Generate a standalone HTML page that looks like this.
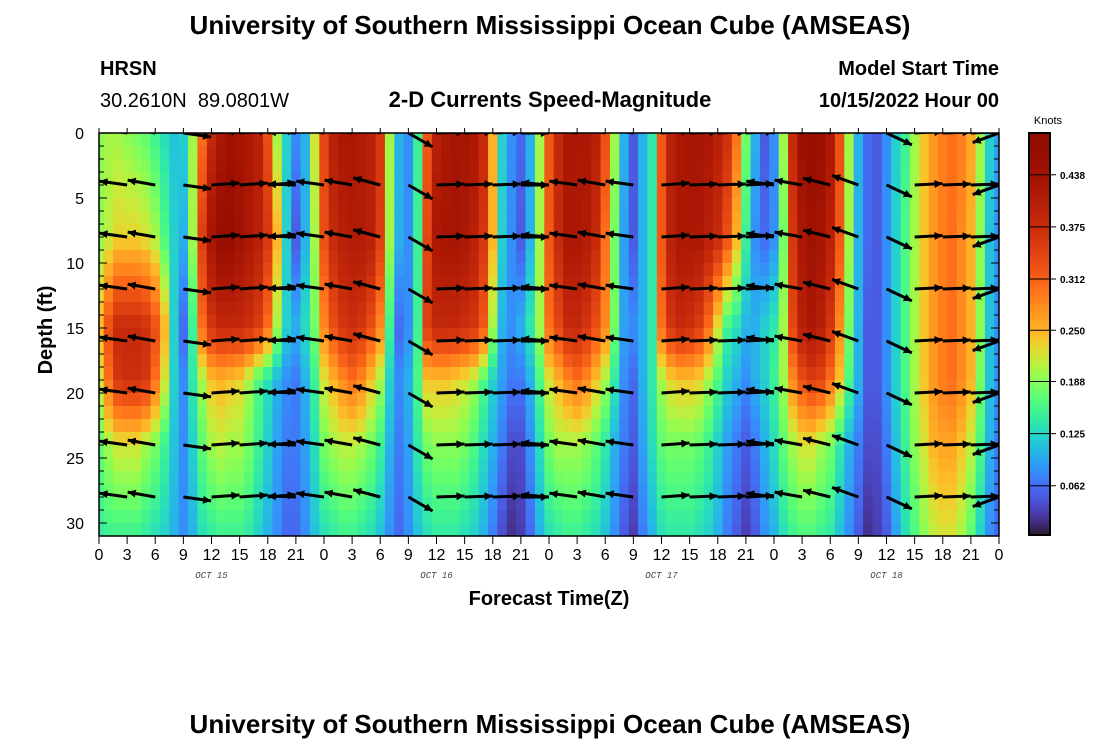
<!DOCTYPE html>
<html><head><meta charset="utf-8">
<style>
body{margin:0;background:#fff;}
svg{display:block;font-family:"Liberation Sans",sans-serif;}
</style></head>
<body>
<svg id="chart" width="1100" height="750" viewBox="0 0 1100 750">
<text x="550" y="34" text-anchor="middle" font-size="26" font-weight="bold">University of Southern Mississippi Ocean Cube (AMSEAS)</text>
<text x="100" y="75" font-size="20" font-weight="bold">HRSN</text>
<text x="100" y="107" font-size="20">30.2610N&#160;&#160;89.0801W</text>
<text x="550" y="107" text-anchor="middle" font-size="22" font-weight="bold">2-D Currents Speed-Magnitude</text>
<text x="999" y="75" text-anchor="end" font-size="20" font-weight="bold">Model Start Time</text>
<text x="999" y="107" text-anchor="end" font-size="20" font-weight="bold">10/15/2022 Hour 00</text>
<text x="549" y="605" text-anchor="middle" font-size="20" font-weight="bold">Forecast Time(Z)</text>
<text transform="translate(52,330) rotate(-90)" text-anchor="middle" font-size="20" font-weight="bold">Depth (ft)</text>
<text x="550" y="733" text-anchor="middle" font-size="26" font-weight="bold">University of Southern Mississippi Ocean Cube (AMSEAS)</text>
<defs><clipPath id="plotclip"><rect x="99" y="133" width="900" height="403"/></clipPath></defs>
<g id="heat" clip-path="url(#plotclip)"></g>
<g id="arrows" clip-path="url(#plotclip)"></g>
<g id="axes"></g>
<g id="cbar"></g>
</svg>
<script>
const depthLevels=[0,8,15,19,24,31];
const speed0=[0.19,0.2,0.2,0.19,0.18,0.17,0.15,0.13,0.11,0.12,0.2,0.3,0.38,0.42,0.44,0.43,0.42,0.4,0.33,0.2,0.12,0.08,0.1,0.22,0.34,0.4,0.42,0.42,0.41,0.4,0.36,0.2,0.1,0.08,0.15,0.32,0.4,0.42,0.43,0.43,0.42,0.38,0.25,0.12,0.08,0.06,0.1,0.2,0.32,0.38,0.42,0.42,0.42,0.4,0.33,0.2,0.1,0.05,0.1,0.14,0.32,0.4,0.42,0.43,0.43,0.42,0.4,0.37,0.3,0.18,0.1,0.05,0.08,0.2,0.38,0.45,0.46,0.45,0.42,0.33,0.2,0.1,0.06,0.05,0.08,0.12,0.15,0.2,0.24,0.27,0.29,0.3,0.29,0.26,0.2,0.12,0.09];
const speed8=[0.19,0.21,0.23,0.23,0.23,0.22,0.2,0.16,0.12,0.1,0.2,0.35,0.43,0.46,0.46,0.44,0.42,0.4,0.36,0.25,0.12,0.05,0.1,0.2,0.33,0.38,0.4,0.41,0.41,0.4,0.35,0.2,0.1,0.08,0.15,0.34,0.42,0.43,0.43,0.42,0.4,0.36,0.25,0.12,0.08,0.05,0.1,0.2,0.32,0.38,0.42,0.42,0.41,0.38,0.3,0.18,0.09,0.05,0.1,0.14,0.32,0.4,0.42,0.42,0.42,0.4,0.38,0.33,0.25,0.15,0.08,0.06,0.08,0.18,0.36,0.42,0.44,0.43,0.4,0.32,0.2,0.1,0.06,0.05,0.08,0.12,0.16,0.2,0.24,0.27,0.29,0.3,0.28,0.25,0.19,0.11,0.08];
const speed15=[0.25,0.33,0.38,0.38,0.38,0.37,0.33,0.25,0.12,0.06,0.15,0.3,0.36,0.38,0.38,0.38,0.37,0.35,0.3,0.2,0.12,0.1,0.13,0.18,0.28,0.33,0.36,0.37,0.36,0.33,0.28,0.15,0.06,0.08,0.15,0.35,0.38,0.38,0.38,0.37,0.36,0.32,0.2,0.1,0.08,0.1,0.14,0.2,0.3,0.34,0.38,0.38,0.36,0.33,0.28,0.18,0.09,0.08,0.1,0.14,0.3,0.36,0.38,0.37,0.35,0.3,0.22,0.15,0.13,0.1,0.1,0.12,0.14,0.2,0.34,0.4,0.42,0.4,0.36,0.28,0.18,0.1,0.05,0.05,0.08,0.12,0.16,0.2,0.24,0.27,0.29,0.3,0.28,0.25,0.19,0.11,0.08];
const speed19=[0.22,0.3,0.36,0.37,0.37,0.36,0.3,0.22,0.12,0.08,0.14,0.2,0.24,0.25,0.24,0.23,0.2,0.16,0.13,0.1,0.08,0.07,0.1,0.15,0.22,0.25,0.28,0.3,0.28,0.24,0.2,0.12,0.08,0.1,0.16,0.24,0.24,0.24,0.23,0.22,0.2,0.16,0.12,0.09,0.07,0.07,0.1,0.16,0.22,0.25,0.28,0.3,0.28,0.24,0.2,0.14,0.08,0.06,0.1,0.14,0.2,0.23,0.24,0.24,0.23,0.2,0.16,0.12,0.1,0.08,0.1,0.12,0.15,0.2,0.28,0.33,0.35,0.34,0.3,0.24,0.16,0.1,0.05,0.05,0.08,0.12,0.16,0.2,0.24,0.27,0.29,0.3,0.28,0.25,0.18,0.11,0.08];
const speed24=[0.17,0.2,0.22,0.22,0.22,0.2,0.18,0.15,0.11,0.08,0.12,0.17,0.2,0.21,0.2,0.2,0.18,0.15,0.12,0.09,0.07,0.07,0.09,0.13,0.18,0.2,0.21,0.21,0.2,0.18,0.15,0.1,0.07,0.09,0.14,0.18,0.19,0.19,0.19,0.18,0.16,0.13,0.1,0.07,0.04,0.04,0.08,0.13,0.18,0.2,0.2,0.2,0.19,0.17,0.14,0.1,0.07,0.05,0.09,0.13,0.17,0.18,0.18,0.18,0.17,0.15,0.12,0.09,0.07,0.05,0.07,0.1,0.13,0.17,0.2,0.22,0.22,0.2,0.18,0.14,0.1,0.07,0.04,0.04,0.07,0.11,0.15,0.19,0.22,0.25,0.26,0.26,0.24,0.21,0.16,0.1,0.07];
const speed31=[0.14,0.15,0.15,0.15,0.15,0.14,0.13,0.12,0.1,0.08,0.1,0.13,0.14,0.15,0.15,0.15,0.14,0.12,0.1,0.08,0.06,0.06,0.08,0.11,0.13,0.14,0.15,0.15,0.14,0.13,0.11,0.08,0.06,0.08,0.11,0.13,0.14,0.14,0.14,0.13,0.12,0.1,0.07,0.04,0.02,0.03,0.06,0.1,0.13,0.14,0.15,0.15,0.14,0.13,0.11,0.08,0.05,0.03,0.07,0.1,0.13,0.14,0.14,0.14,0.13,0.12,0.1,0.07,0.05,0.03,0.05,0.08,0.1,0.13,0.15,0.16,0.16,0.15,0.14,0.11,0.08,0.05,0.02,0.03,0.05,0.09,0.13,0.16,0.19,0.21,0.22,0.22,0.2,0.17,0.12,0.08,0.06];
const speedLevels=[speed0,speed8,speed15,speed19,speed24,speed31];
const arrowHours=[0,3,6,9,12,15,18,21,24,27,30,33,36,39,42,45,48,51,54,57,60,63,66,69,72,75,78,81,84,87,90,93,96];
const arrowAngles=[174,172,170,-8,4,4,5,178,172,170,165,-30,2,2,2,0,175,172,170,172,4,2,2,3,172,170,166,160,-25,3,2,2,200];
const arrowDepths=[0,4,8,12,16,20,24,28];
const yTicks=[0,5,10,15,20,25,30];
const xTicks=[0,3,6,9,12,15,18,21,24,27,30,33,36,39,42,45,48,51,54,57,60,63,66,69,72,75,78,81,84,87,90,93,96];
const dateLabels=["OCT 15","OCT 16","OCT 17","OCT 18"];
const dateHours=[12,36,60,84];
const cbTicks=[0.062,0.125,0.188,0.250,0.312,0.375,0.438];

const NS="http://www.w3.org/2000/svg";
const X0=99,X1=999,Y0=133,Y1=536;
const xs=h=>X0+h*(X1-X0)/96;
const ys=d=>Y0+d*(Y1-Y0)/31;
const cby=v=>537-v*827;
function turbo(t){t=Math.max(0,Math.min(1,t));
 const r=34.61+t*(1172.33-t*(10793.56-t*(33300.12-t*(38394.49-t*14825.05))));
 const g=23.31+t*(557.33+t*(1225.33-t*(3574.96-t*(1073.77+t*707.56))));
 const b=27.2+t*(3211.1-t*(15327.97-t*(27814-t*(22569.18-t*6838.66))));
 const c=v=>Math.round(Math.max(0,Math.min(255,v)));
 return `rgb(${c(r)},${c(g)},${c(b)})`;}
const cmV=[0,0.062,0.125,0.188,0.25,0.312,0.375,0.438,0.5];
const cmT=[0.0,0.13,0.3,0.48,0.68,0.8,0.88,0.94,1.0];
function colorOf(v){
 let i=0;while(i<cmV.length-2&&v>cmV[i+1])i++;
 const f=Math.max(0,Math.min(1,(v-cmV[i])/(cmV[i+1]-cmV[i])));
 return turbo(cmT[i]+f*(cmT[i+1]-cmT[i]));}
function mk(tag,attrs,parent){const e=document.createElementNS(NS,tag);for(const k in attrs)e.setAttribute(k,attrs[k]);parent.appendChild(e);return e;}

const heat=document.getElementById('heat');
const cw=(X1-X0)/96;
for(let h=0;h<=96;h++){
 for(let d=0;d<31;d++){
  const dc=d+0.5;let i=0;
  while(i<depthLevels.length-2&&dc>depthLevels[i+1])i++;
  const f=(dc-depthLevels[i])/(depthLevels[i+1]-depthLevels[i]);
  const v=speedLevels[i][h]*(1-f)+speedLevels[i+1][h]*f;
  const r=mk('rect',{x:xs(h)-cw/2,y:ys(d),width:cw+0.6,height:(Y1-Y0)/31+0.6,fill:colorOf(v)},heat);
  
  
 }
}
const ar=document.getElementById('arrows');
arrowHours.forEach((h,k)=>{
 arrowDepths.forEach(d=>{
  const a=arrowAngles[k]*Math.PI/180,L=28;
  const x0=xs(h),y0=ys(d),x1=x0+L*Math.cos(a),y1=y0-L*Math.sin(a);
  const g=mk('g',{},ar);
  
  
  mk('line',{x1:x0,y1:y0,x2:x1,y2:y1,stroke:'#000','stroke-width':3},g);
  const ux=Math.cos(a),uy=-Math.sin(a),px=-uy,py=ux;
  mk('polygon',{points:`${x1},${y1} ${x1-8*ux+4*px},${y1-8*uy+4*py} ${x1-8*ux-4*px},${y1-8*uy-4*py}`,fill:'#000'},g);
 });
});
const ax=document.getElementById('axes');
mk('rect',{x:X0,y:Y0,width:X1-X0,height:Y1-Y0,fill:'none',stroke:'#000','stroke-width':1.5},ax);
for(let d=0;d<=31;d++){
 const len=(d%5===0)?8:5;
 mk('line',{x1:X0,y1:ys(d),x2:X0+len,y2:ys(d),stroke:'#000'},ax);
 mk('line',{x1:X1,y1:ys(d),x2:X1-len,y2:ys(d),stroke:'#000'},ax);
}
yTicks.forEach(t=>{const e=mk('text',{x:84,y:ys(t)+6,'text-anchor':'end','font-size':16},ax);e.textContent=t;
 
 });
xTicks.forEach(t=>{
 mk('line',{x1:xs(t),y1:Y1,x2:xs(t),y2:Y1+8,stroke:'#000'},ax);
 mk('line',{x1:xs(t),y1:Y0,x2:xs(t),y2:Y0-5,stroke:'#000'},ax);
 const e=mk('text',{x:xs(t),y:Y1+24,'text-anchor':'middle','font-size':16},ax);e.textContent=t%24;
 
 
});
dateLabels.forEach((s,i)=>{const e=mk('text',{x:xs(dateHours[i]),y:578,'text-anchor':'middle','font-size':9,'font-style':'italic','font-family':'Liberation Mono, monospace',fill:'#444'},ax);e.textContent=s;
 
 });
const cb=document.getElementById('cbar');
for(let y=133;y<535;y+=2){mk('rect',{x:1029,y:y,width:21,height:2.5,fill:colorOf((537-y-1)/827)},cb);}
mk('rect',{x:1029,y:133,width:21,height:402,fill:'none',stroke:'#000','stroke-width':2},cb);
cbTicks.forEach(v=>{
 mk('line',{x1:1029,y1:cby(v),x2:1056,y2:cby(v),stroke:'#000','stroke-width':1},cb);
 const e=mk('text',{x:1060,y:cby(v)+4,'font-size':10,'font-weight':'bold'},cb);e.textContent=v.toFixed(3);
 
 
});
const kt=mk('text',{x:1048,y:124,'text-anchor':'middle','font-size':11},cb);kt.textContent='Knots';


</script>
</body></html>
